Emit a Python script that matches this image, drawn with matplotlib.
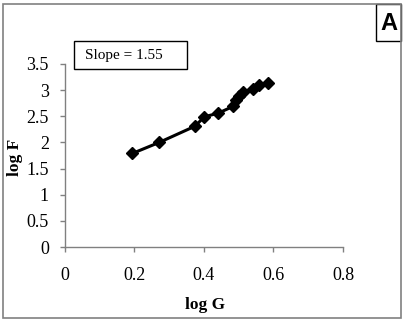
import matplotlib.pyplot as plt
from matplotlib.patches import Rectangle

# log G / log F pairs
log_g = [0.194, 0.271, 0.374, 0.401, 0.441, 0.484, 0.492, 0.502, 0.513, 0.540, 0.558, 0.583]
log_f = [1.79, 2.00, 2.31, 2.49, 2.56, 2.69, 2.81, 2.89, 2.97, 3.02, 3.10, 3.13]
x_ticks = [0, 0.2, 0.4, 0.6, 0.8]
y_ticks = [0, 0.5, 1, 1.5, 2, 2.5, 3, 3.5]

plt.rcParams['font.family'] = ['Liberation Serif', 'DejaVu Serif']

fig = plt.figure(figsize=(4.06, 3.23), dpi=100)
W, H = 406, 323
ax = fig.add_axes([65 / W, 1 - 247 / H, (343 - 65) / W, (247 - 64) / H])

ax.plot(log_g, log_f, color='black', linewidth=2.2, marker='D', markersize=6,
        markerfacecolor='black', markeredgecolor='black')

ax.set_xlim(0, 0.8)
ax.set_ylim(0, 3.5)
ax.set_xticks(x_ticks)
ax.set_xticklabels(['0', '0.2', '0.4', '0.6', '0.8'])
ax.set_yticks(y_ticks)
ax.set_yticklabels(['0', '0.5', '1', '1.5', '2', '2.5', '3', '3.5'])
ax.tick_params(direction='out', length=3.6, width=1, color='#808080',
               labelsize=13)
ax.tick_params(axis='x', pad=10.5)
ax.tick_params(axis='y', pad=8)
for s in ['top', 'right']:
    ax.spines[s].set_visible(False)
for s in ['left', 'bottom']:
    ax.spines[s].set_color('#808080')
    ax.spines[s].set_linewidth(1)

fig.text(205 / W, 1 - 305 / H, 'log G', ha='center', va='center',
         fontsize=12.5, fontweight='bold')
fig.text(15 / W, 1 - 157 / H, 'log F', ha='center', va='center',
         fontsize=12.5, fontweight='bold', rotation=90)

# slope box
fig.patches.append(Rectangle((74 / W, 1 - 69 / H), (187 - 74) / W, (69 - 41) / H,
                             transform=fig.transFigure, facecolor='white',
                             edgecolor='black', linewidth=1))
fig.text(124 / W, 1 - 55 / H, 'Slope = 1.55', ha='center', va='center', fontsize=11)

# panel letter box
fig.patches.append(Rectangle((376 / W, 1 - 41 / H), (401 - 376) / W, (41 - 4) / H,
                             transform=fig.transFigure, facecolor='white',
                             edgecolor='black', linewidth=1))
fig.text(389 / W, 1 - 24 / H, 'A', ha='center', va='center', fontsize=17,
         fontweight='bold', family='Liberation Sans')

# outer border
fig.patches.append(Rectangle((3 / W, 1 - 318 / H), (401 - 3) / W, (318 - 4) / H,
                             transform=fig.transFigure, fill=False,
                             edgecolor='#808080', linewidth=1.2))

fig.savefig('out.png', dpi=100)
